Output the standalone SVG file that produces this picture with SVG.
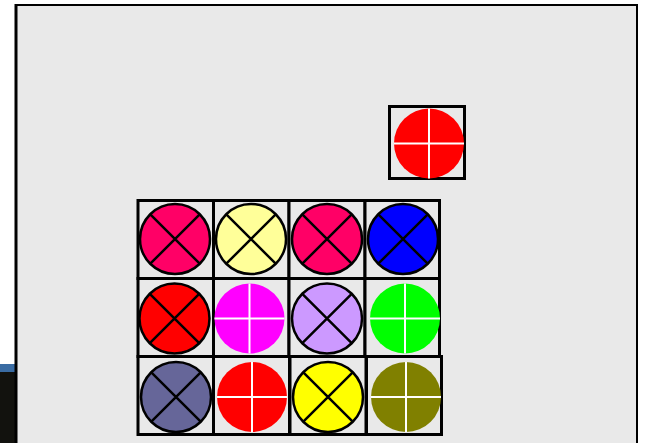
<svg xmlns="http://www.w3.org/2000/svg" width="647" height="443" viewBox="0 0 647 443">
<style>
.box{fill:#e9e9e9;stroke:#000;stroke-width:3}
.cx{stroke:#000;stroke-width:2.5}
.xl{stroke:#000;stroke-width:2.5;fill:none}
.pl{stroke:#fff;stroke-width:2;fill:none}
</style>
<defs>
<g id="xsym"><path class="xl" d="M-24.7,-24.7L24.7,24.7M24.7,-24.7L-24.7,24.7"/></g>
<g id="psym"><path class="pl" d="M0,-35V35M-35,0H35"/></g>
</defs>
<rect x="0" y="0" width="647" height="443" fill="#fff"/>
<rect x="0" y="364" width="15" height="8" fill="#3a6ca3"/>
<rect x="0" y="372" width="15" height="71" fill="#12120e"/>
<rect x="16" y="5" width="621" height="445" fill="#e9e9e9" stroke="#000" stroke-width="2"/>
<rect x="14.5" y="4" width="3" height="440" fill="#000"/>
<g id="n-top"><rect class="box" x="389.5" y="106.5" width="75" height="72" stroke-width="2.5"/><circle cx="429" cy="143.5" r="35" fill="#ff0000"/><use href="#psym" x="429" y="143.5"/></g>
<g id="n11"><rect class="box" x="138" y="200.5" width="75.5" height="78"/><circle class="cx" cx="175" cy="239" r="35" fill="#ff0066"/><use href="#xsym" x="175" y="239"/></g>
<g id="n12"><rect class="box" x="213.5" y="200.5" width="75.5" height="78"/><circle class="cx" cx="251" cy="239" r="35" fill="#ffff99"/><use href="#xsym" x="251" y="239"/></g>
<g id="n13"><rect class="box" x="289" y="200.5" width="76" height="78"/><circle class="cx" cx="327" cy="239" r="35" fill="#ff0066"/><use href="#xsym" x="327" y="239"/></g>
<g id="n14"><rect class="box" x="365" y="200.5" width="74.5" height="78"/><circle class="cx" cx="403" cy="239" r="35" fill="#0000ff"/><use href="#xsym" x="403" y="239"/></g>
<g id="n21"><rect class="box" x="138" y="278.5" width="75.5" height="78"/><circle class="cx" cx="174.5" cy="318.5" r="35" fill="#ff0000"/><use href="#xsym" x="174.5" y="318.5"/></g>
<g id="n22"><rect class="box" x="213.5" y="278.5" width="75.5" height="78"/><circle cx="249.5" cy="318.5" r="35" fill="#ff00ff"/><use href="#psym" x="249.5" y="318.5"/></g>
<g id="n23"><rect class="box" x="289" y="278.5" width="76" height="78"/><circle class="cx" cx="327" cy="318.5" r="35" fill="#cc99ff"/><use href="#xsym" x="327" y="318.5"/></g>
<g id="n24"><rect class="box" x="365" y="278.5" width="74.5" height="78"/><circle cx="405" cy="318.5" r="35" fill="#00ff00"/><use href="#psym" x="405" y="318.5"/></g>
<g id="n31"><rect class="box" x="138" y="356.5" width="75.5" height="78"/><circle class="cx" cx="176" cy="397" r="35" fill="#666699"/><use href="#xsym" x="176" y="397"/></g>
<g id="n32"><rect class="box" x="213.5" y="356.5" width="76" height="78"/><circle cx="252" cy="397" r="35" fill="#ff0000"/><use href="#psym" x="252" y="397"/></g>
<g id="n33"><rect class="box" x="290" y="356.5" width="76" height="78"/><circle class="cx" cx="328" cy="397" r="35" fill="#ffff00"/><use href="#xsym" x="328" y="397"/></g>
<g id="n34"><rect class="box" x="366.5" y="356.5" width="75" height="78"/><circle cx="406" cy="397" r="35" fill="#808000"/><use href="#psym" x="406" y="397"/></g>
<g id="connectors"></g>
</svg>
